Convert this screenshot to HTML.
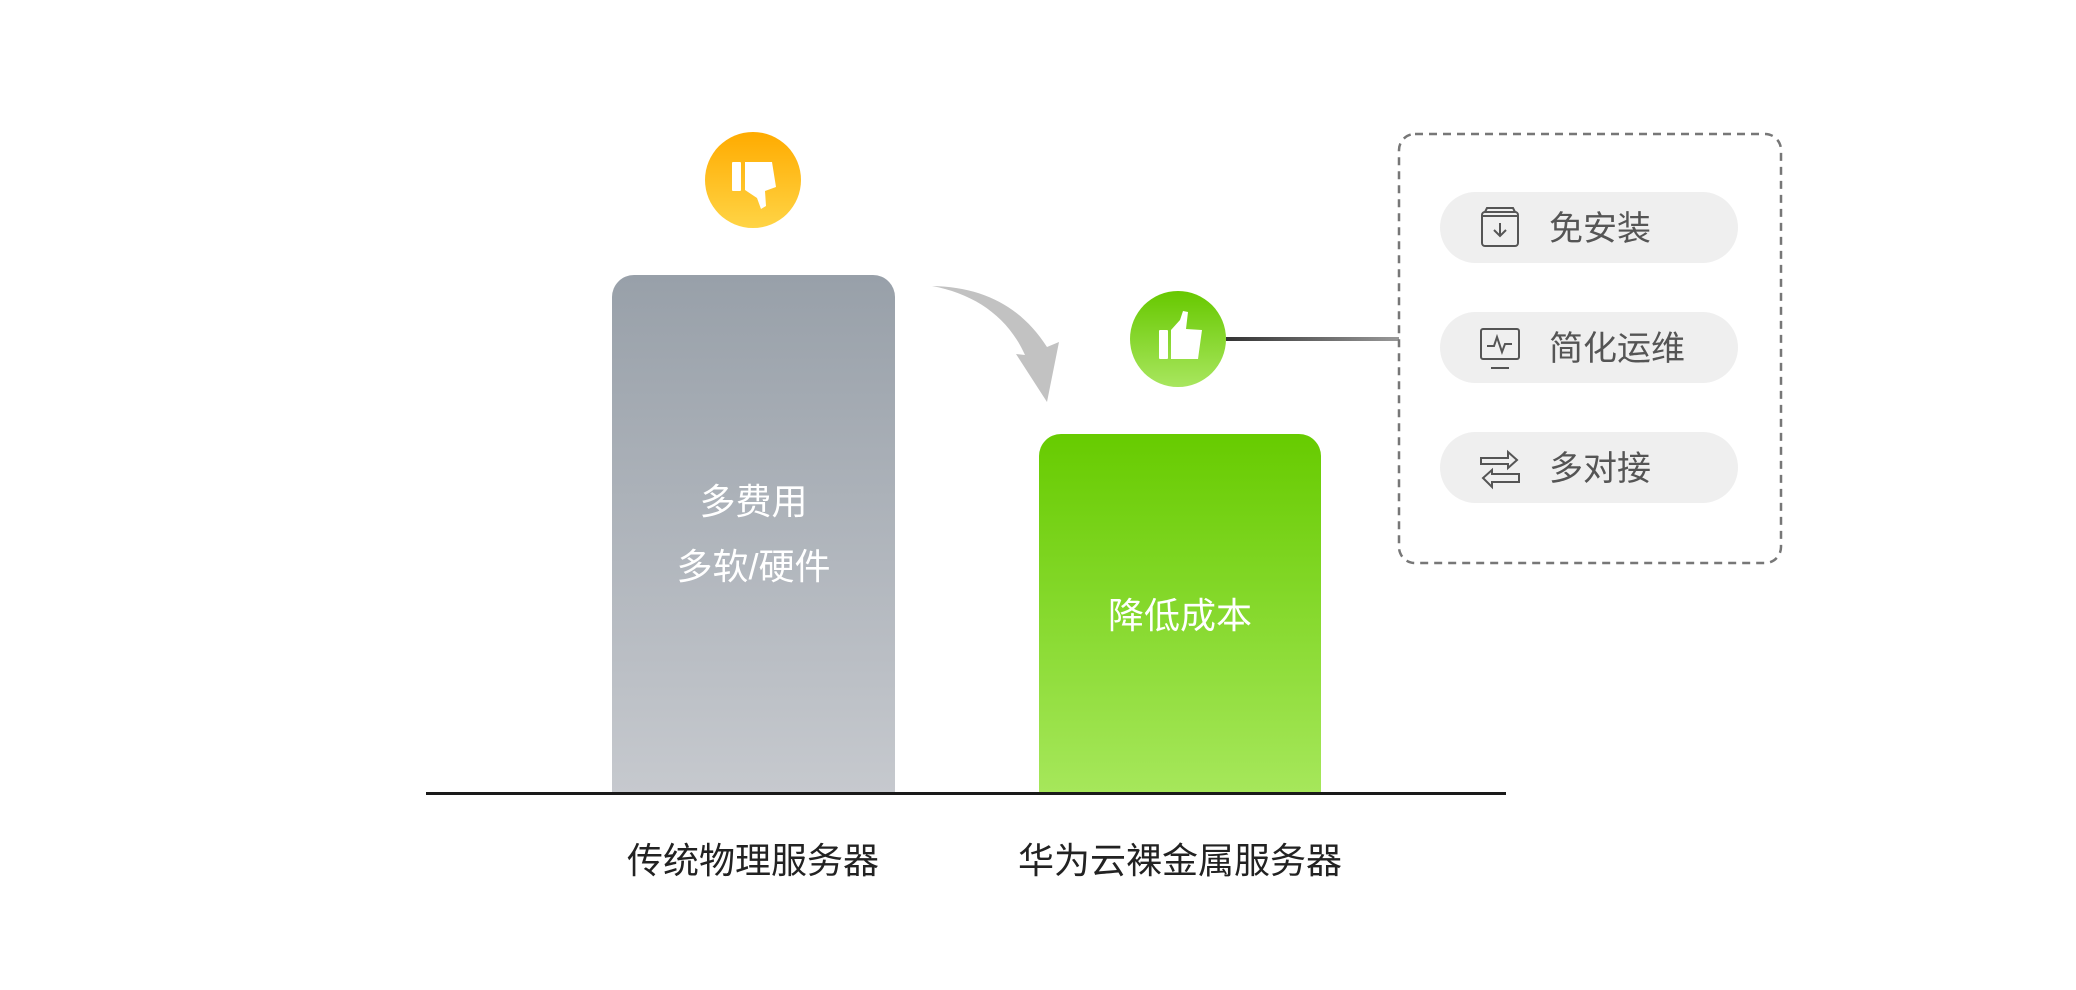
<!DOCTYPE html>
<html><head><meta charset="utf-8"><style>
body{margin:0;width:2076px;height:990px;background:#fff;position:relative;overflow:hidden;font-family:"Liberation Sans","Noto Sans CJK SC",sans-serif}
.a{position:absolute}
.bar{position:absolute;border-radius:22px 22px 0 0}
.t{position:absolute;color:#fff;font-size:36px;text-align:center;line-height:1}
.lab{position:absolute;color:#222;font-size:36px;text-align:center;line-height:1;width:400px}
.pill{position:absolute;left:1440px;width:298px;height:71px;border-radius:36px;background:#efefef}
.pill span{position:absolute;left:109px;top:20px;font-size:34px;color:#555;line-height:1}
.pill svg{position:absolute;left:38px;top:14px}
</style></head><body>
<div class="bar" style="left:612px;top:275px;width:283px;height:518px;background:linear-gradient(#98a0a9,#c6c9ce)"></div>
<div class="bar" style="left:1039px;top:434px;width:282px;height:359px;background:linear-gradient(#67cb00,#a6e75b)"></div>
<div class="t" style="left:612px;width:283px;top:484px">多费用</div>
<div class="t" style="left:612px;width:283px;top:549px">多软/硬件</div>
<div class="t" style="left:1039px;width:282px;top:598px">降低成本</div>
<div class="a" style="left:426px;top:792px;width:1080px;height:3px;background:#1a1a1a"></div>
<div class="lab" style="left:553px;top:843px">传统物理服务器</div>
<div class="lab" style="left:980px;top:843px">华为云裸金属服务器</div>
<svg class="a" style="left:0;top:0" width="2076" height="990">
<defs>
<linearGradient id="og" x1="0" y1="0" x2="0" y2="1"><stop offset="0" stop-color="#ffab00"/><stop offset="1" stop-color="#ffd445"/></linearGradient>
<linearGradient id="gg" x1="0" y1="0" x2="0" y2="1"><stop offset="0" stop-color="#67c800"/><stop offset="1" stop-color="#a8e65e"/></linearGradient>
<linearGradient id="lg" x1="0" y1="0" x2="1" y2="0"><stop offset="0" stop-color="#333"/><stop offset="1" stop-color="#999"/></linearGradient>
</defs>
<circle cx="753" cy="180" r="48" fill="url(#og)"/>
<g fill="#fff"><rect x="732" y="162" width="9" height="29" rx="1"/><path d="M745,162 L772,162 L776,187 L765,191 L766,206 L761,209 L757,198 L745,190 Z"/></g>
<circle cx="1178" cy="339" r="48" fill="url(#gg)"/>
<g fill="#fff"><rect x="1159" y="330" width="9" height="29" rx="1"/><path d="M1171,330 L1180,320 L1183,311 L1188,312 L1186,329 L1202,330 L1198,359 L1171,359 Z"/></g>
<rect x="1226" y="337" width="173" height="4" fill="url(#lg)"/>
<path d="M932,286 C985,287 1022,308 1047,347 L1059,342 L1047,402 L1016,354 L1025,355 C1008,317 975,294 932,286 Z" fill="#c2c2c2"/>
<rect x="1399" y="134" width="382" height="429" rx="16" fill="none" stroke="#777" stroke-width="2.5" stroke-dasharray="8 6"/>
</svg>
<div class="pill" style="top:192px"><svg width="44" height="44" viewBox="0 0 44 44" fill="none" stroke="#555" stroke-width="2"><rect x="4" y="6" width="36" height="34" rx="3"/><path d="M7,6 L9,2 L35,2 L37,6 M4,10 L40,10 M22,17 L22,30 M16,24 L22,30 L28,24"/></svg><span>免安装</span></div>
<div class="pill" style="top:312px"><svg width="44" height="44" viewBox="0 0 44 44" fill="none" stroke="#555" stroke-width="2"><rect x="3" y="3" width="38" height="30" rx="2"/><path d="M9,20 L16,20 L19,11 L24,26 L27,18 L34,18 M13,42 L31,42"/></svg><span>简化运维</span></div>
<div class="pill" style="top:432px"><svg width="44" height="44" viewBox="0 0 44 44" fill="none" stroke="#555" stroke-width="2"><path d="M3,12 L30,12 L30,6 L39,14 L30,22 L30,18 L3,18 Z M41,28 L14,28 L14,24 L5,32 L14,41 L14,36 L41,36 Z"/></svg><span>多对接</span></div>
</body></html>
